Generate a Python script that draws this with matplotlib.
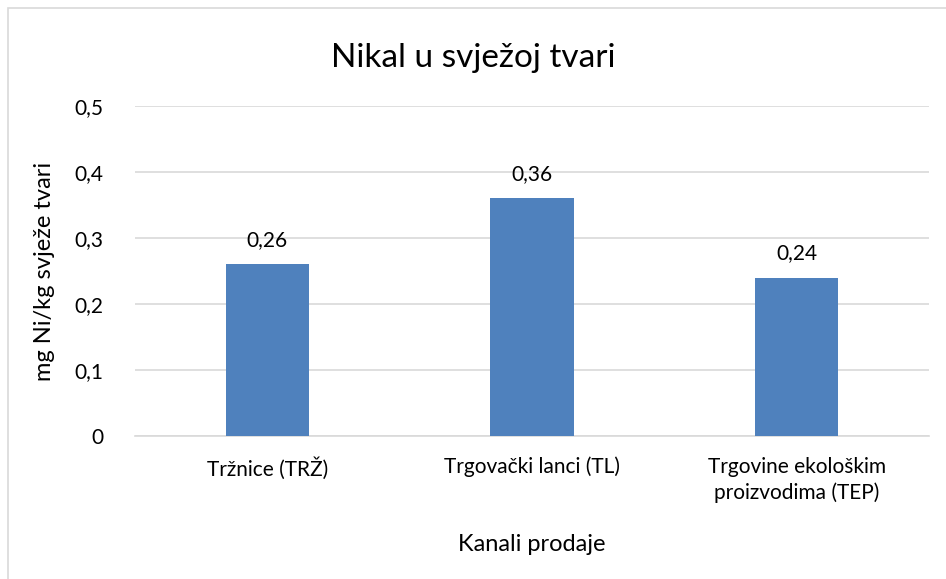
import matplotlib
matplotlib.use('Agg')
import matplotlib.pyplot as plt
from matplotlib.patches import Rectangle
from matplotlib.ticker import FuncFormatter

categories = ["Tržnice (TRŽ)", "Trgovački lanci (TL)",
              "Trgovine ekološkim\nproizvodima (TEP)"]
values = [0.26, 0.36, 0.24]
yticks = [0, 0.1, 0.2, 0.3, 0.4, 0.5]

BAR = "#4f81bd"
GRID = "#d9d9d9"
TXT = "#000000"

plt.rcParams['font.family'] = ['Lato', 'DejaVu Sans']

fig = plt.figure(figsize=(9.46, 5.79), dpi=100, facecolor='white')
fig.patches.append(Rectangle((8 / 946, -0.05), 1.2, 1 - 8 / 579 + 0.05,
                             transform=fig.transFigure, fill=False,
                             edgecolor=GRID, lw=1.2))

ax = fig.add_axes([0.1427, 0.247, 0.8394, 0.570])
x = range(len(categories))
ax.bar(x, values, width=0.315, color=BAR, zorder=3)
ax.set_xlim(-0.5, 2.5)
ax.set_ylim(0, 0.5)
ax.set_yticks(yticks)
ax.yaxis.set_major_formatter(FuncFormatter(
    lambda v, p: "0" if v == 0 else f"{v:.1f}".replace(".", ",")))
ax.set_xticks(list(x))
ax.set_xticklabels(categories, fontsize=15, color=TXT, linespacing=1.35)
ax.tick_params(axis='y', labelsize=15, length=0, pad=23, colors=TXT)
ax.tick_params(axis='x', length=0, pad=15)
ax.grid(axis='y', color=GRID, lw=1.2, zorder=0)
for s in ['top', 'right', 'left']:
    ax.spines[s].set_visible(False)
ax.spines['bottom'].set_color(GRID)
ax.spines['bottom'].set_linewidth(1.2)

for i, v in enumerate(values):
    ax.text(i, v + 0.022, f"{v:.2f}".replace(".", ","), ha='center',
            va='bottom', fontsize=15, color=TXT)

ax.set_xlabel("Kanali prodaje", fontsize=17, color=TXT, labelpad=22)
ax.set_ylabel("mg Ni/kg svježe tvari", fontsize=17, color=TXT, labelpad=14)
fig.text(0.5, 0.899, "Nikal u svježoj tvari", ha='center', va='center',
         fontsize=24, color=TXT)

fig.savefig("out.png", dpi=100, facecolor='white')
